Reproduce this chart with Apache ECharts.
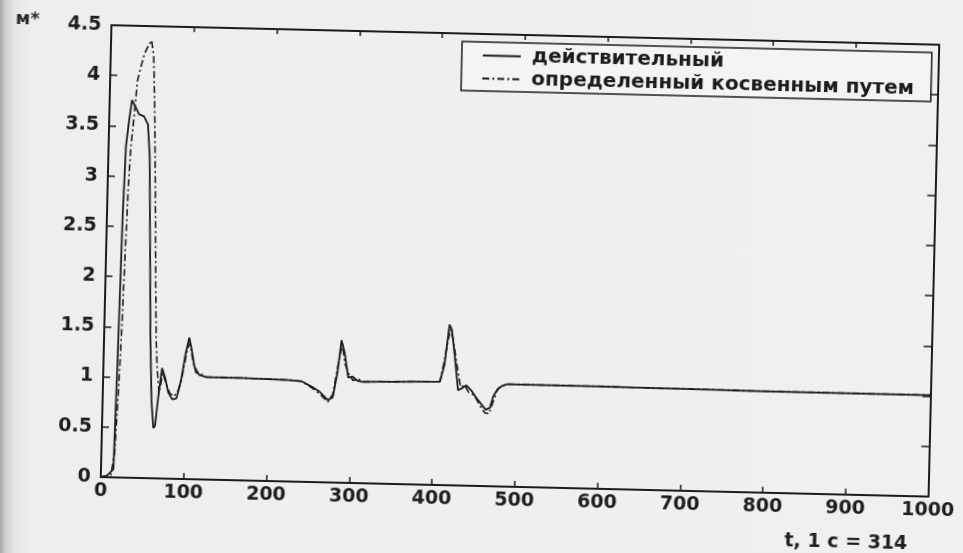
<!DOCTYPE html>
<html>
<head>
<meta charset="utf-8">
<script src="https://cdn.jsdelivr.net/npm/echarts@6/dist/echarts.min.js"></script>
<style>
  html, body { margin: 0; padding: 0; }
  body {
    width: 963px; height: 553px; overflow: hidden;
    background: linear-gradient(to right, #a8a8a8 0px, #cfcfcf 6px, #e6e6e6 14px, #eeeeee 30px, #f0f0f0 100%);
  }
  #chart {
    width: 963px; height: 553px;
    transform-origin: 524px 261px;
    transform: rotate(1.35deg);
  }
</style>
</head>
<body>
<div id="chart"></div>
<script>
// Tick values
const xTicks = [0, 100, 200, 300, 400, 500, 600, 700, 800, 900, 1000];
const yTicks = [0, 0.5, 1, 1.5, 2, 2.5, 3, 3.5, 4, 4.5];

// Series names
const seriesNames = ['действительный', 'определенный косвенным путем'];

// Actual torque (solid)
const actualT = [0, 8, 15, 17, 19, 21, 24, 27, 31, 36, 42, 47, 50, 53, 56, 59, 62, 64, 67, 71,
  75, 79, 84, 89, 94, 99, 103, 106, 110, 116, 125, 170, 225, 240, 252, 262, 272, 278, 283, 287,
  291, 296, 301, 307, 313, 360, 407, 412, 417, 420, 424, 429, 434, 439, 445, 451, 457, 463, 468, 472,
  477, 482, 488, 600, 800, 1000];
const actualM = [0, 0.02, 0.08, 1.2, 2.6, 3.3, 3.55, 3.76, 3.7, 3.62, 3.6, 3.52, 3.2, 2.3, 1.4, 0.78, 0.5, 0.52, 0.8, 1.1,
  1.0, 0.86, 0.79, 0.8, 0.97, 1.25, 1.41, 1.3, 1.12, 1.04, 1.02, 1.02, 1.01, 1.0, 0.95, 0.9, 0.82, 0.85, 1.1, 1.42,
  1.3, 1.05, 1.06, 1.02, 1.01, 1.02, 1.03, 1.2, 1.6, 1.55, 1.3, 0.95, 0.97, 1.0, 0.95, 0.88, 0.82, 0.76, 0.78, 0.9,
  0.97, 1.0, 1.02, 1.02, 1.01, 1.01];

// Indirectly determined torque (dashed)
const indirectT = [0, 12, 16, 19, 21, 23, 25, 27, 30, 33, 37, 41, 45, 49, 52, 55, 58, 61, 63, 65,
  68, 72, 76, 81, 86, 91, 96, 101, 104, 108, 112, 118, 125, 170, 225, 240, 252, 262, 272, 278,
  283, 288, 292, 297, 302, 308, 313, 360, 407, 412, 418, 422, 427, 432, 437, 442, 449, 456, 462, 467,
  471, 476, 481, 488, 600, 800, 1000];
const indirectM = [0, 0.02, 0.24, 0.9, 1.44, 2.2, 2.9, 3.3, 3.6, 3.95, 4.1, 4.23, 4.3, 4.36, 4.2, 3.6, 2.8, 1.9, 1.38, 1.1,
  0.85, 1.05, 0.95, 0.85, 0.82, 0.88, 1.05, 1.3, 1.35, 1.18, 1.06, 1.05, 1.02, 1.02, 1.01, 1.0, 0.94, 0.88, 0.8, 0.88,
  1.15, 1.38, 1.18, 1.08, 1.02, 1.04, 1.01, 1.02, 1.03, 1.25, 1.55, 1.45, 1.2, 0.98, 1.0, 0.93, 0.9, 0.8, 0.73, 0.72,
  0.82, 0.95, 1.0, 1.02, 1.02, 1.01, 1.01];

const yName = 'м*';
const xName = 't, 1 c = 314';

const pairs = (xs, ys) => xs.map((x, i) => [x, ys[i]]);

const ink = '#1c1c1c';
const font = 'DejaVu Sans';

const chart = echarts.init(document.getElementById('chart'), null, { renderer: 'canvas' });

const xStep = xTicks[1] - xTicks[0];
const yStep = yTicks[1] - yTicks[0];
const plain = v => String(v);

chart.setOption({
  backgroundColor: 'transparent',
  animation: false,
  grid: { left: 106, top: 35, right: 21, bottom: 66, containLabel: false },
  legend: {
    left: 457, top: 43,
    orient: 'vertical',
    data: seriesNames,
    padding: [3, 17, 2, 20],
    itemGap: 2,
    itemWidth: 38,
    itemHeight: 14,
    borderColor: ink,
    borderWidth: 1.5,
    backgroundColor: '#f4f4f4',
    itemStyle: { color: 'rgba(0,0,0,0)', borderColor: 'rgba(0,0,0,0)', borderWidth: 0 },
    textStyle: { fontFamily: font, fontWeight: 'bold', fontSize: 20, color: ink, lineHeight: 21, padding: [0, 0, 0, 6] }
  },
  xAxis: [
    {
      type: 'value', position: 'bottom',
      min: xTicks[0], max: xTicks[xTicks.length - 1], interval: xStep,
      axisLine: { show: true, onZero: false, lineStyle: { color: ink, width: 2 } },
      axisTick: { show: true, inside: true, length: 6, lineStyle: { color: ink, width: 1.5 } },
      axisLabel: { color: '#1e1e1e', fontFamily: font, fontWeight: 'bold', fontSize: 19, margin: 5, formatter: plain },
      splitLine: { show: false }
    },
    {
      type: 'value', position: 'top',
      min: xTicks[0], max: xTicks[xTicks.length - 1], interval: xStep,
      axisLine: { show: true, onZero: false, lineStyle: { color: ink, width: 2 } },
      axisTick: { show: true, inside: true, length: 5, lineStyle: { color: ink, width: 1.5 } },
      axisLabel: { show: false },
      splitLine: { show: false }
    }
  ],
  yAxis: [
    {
      type: 'value', position: 'left',
      min: yTicks[0], max: yTicks[yTicks.length - 1], interval: yStep,
      axisLine: { show: true, onZero: false, lineStyle: { color: ink, width: 2 } },
      axisTick: { show: true, inside: true, length: 7, lineStyle: { color: ink, width: 1.5 } },
      axisLabel: { color: '#1e1e1e', fontFamily: font, fontWeight: 'bold', fontSize: 19, margin: 10, formatter: plain },
      splitLine: { show: false }
    },
    {
      type: 'value', position: 'right',
      min: yTicks[0], max: yTicks[yTicks.length - 1], interval: yStep,
      axisLine: { show: true, onZero: false, lineStyle: { color: ink, width: 2 } },
      axisTick: { show: true, inside: true, length: 8, lineStyle: { color: ink, width: 1.5 } },
      axisLabel: { show: false },
      splitLine: { show: false }
    }
  ],
  graphic: [
    { type: 'text', left: 10, top: 22, style: { text: yName, fontFamily: font, fontWeight: 'bold', fontSize: 18, fill: '#2a2a2a' } },
    { type: 'text', left: 791, top: 526, style: { text: xName, fontFamily: font, fontWeight: 'bold', fontSize: 19, fill: '#1e1e1e' } }
  ],
  series: [
    {
      name: seriesNames[0], type: 'line', xAxisIndex: 0, yAxisIndex: 0,
      data: pairs(actualT, actualM), showSymbol: false, symbol: 'none',
      lineStyle: { color: ink, width: 1.8, type: 'solid' },
      itemStyle: { color: ink }, z: 3
    },
    {
      name: seriesNames[1], type: 'line', xAxisIndex: 0, yAxisIndex: 0,
      data: pairs(indirectT, indirectM), showSymbol: false, symbol: 'none',
      lineStyle: { color: ink, width: 1.6, type: [7, 3, 2, 3] },
      itemStyle: { color: ink }, z: 2
    }
  ]
});
</script>
</body>
</html>
